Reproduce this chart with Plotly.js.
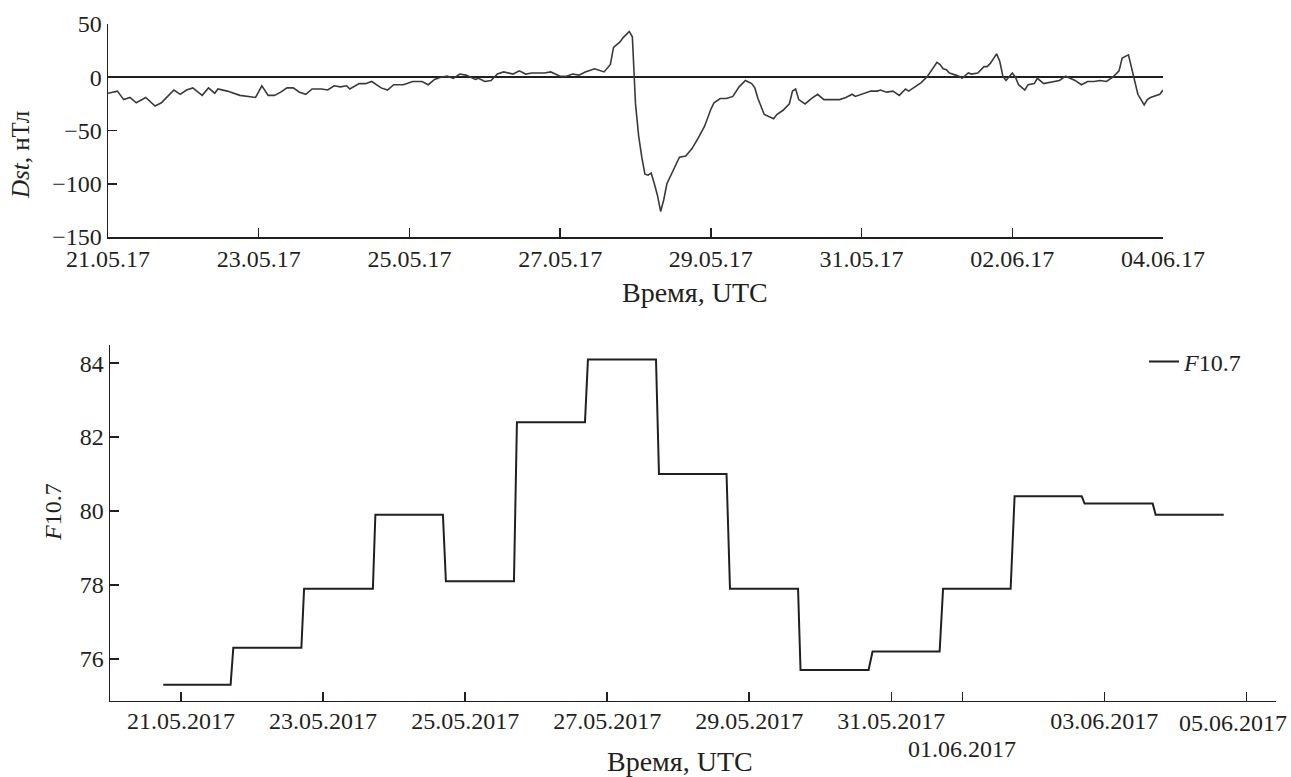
<!DOCTYPE html>
<html>
<head>
<meta charset="utf-8">
<script src="https://cdn.plot.ly/plotly-3.0.1.min.js"></script>
<style>
html,body{margin:0;padding:0;background:#fff;}
#chart{width:1291px;height:777px;}
</style>
</head>
<body>
<div id="chart"></div>
<script>
// ---- Dst index, hours since 2017-05-21 00:00 UTC ----
const dstStart = '2017-05-21T00:00:00Z';
const dstHours = [0,3,5,7,9,12,15,17,19,21,23,25,27,30,32,34,35,38,42,45,47,49,51,53,55,57,59,61,63,65,
  68,70,72,74,76,77,80,82,84,87,89,91,94,95,97,100,102,104,106,108,110,112,114,117,118,120,122,124,126,129,
  131,133,135,137,139,141,144,146,148,150,152,155,158,160,161,163,164,166,167,168,169,170,171,172,173,174,175,176,177,178,
  179,180,181,182,184,186,188,190,192,193,195,197,199,201,203,205,206,207,209,211,212,213,215,217,218,219,220,222,224,226,
  228,231,233,235,237,238,241,243,245,246,248,250,252,254,255,257,259,261,263,264,265,266,267,268,270,271,272,274,275,277,
  279,280,281,283,284,285,286,288,289,290,292,293,295,296,298,300,303,305,307,308,310,312,314,316,318,320,322,323,325,326,
  327,328,330,331,332,334,335,336];
const dstValues = [-15,-13,-21,-19,-24,-19,-27,-24,-18,-12,-16,-12,-10,-17,-10,-15,-11,-13,-17,-18,-19,-8,-17,-17,-14,-10,-10,-14,-16,-11,
  -11,-12,-8,-9,-8,-11,-6,-6,-4,-10,-12,-7,-7,-6,-4,-4,-7,-2,0,1,-1,3,2,-2,-1,-4,-3,3,5,3,
  6,3,4,4,4,5,1,1,3,2,5,8,5,12,28,33,37,43,38,-25,-55,-75,-91,-92,-90,-100,-111,-126,-115,-100,
  -94,-88,-82,-75,-74,-67,-57,-46,-30,-24,-20,-20,-18,-9,-3,-6,-10,-20,-35,-38,-39,-35,-31,-25,-13,-11,-21,-25,-20,-16,
  -21,-21,-21,-19,-16,-18,-15,-13,-13,-12,-14,-13,-17,-11,-13,-9,-5,1,9,14,12,8,7,4,2,1,-1,4,3,4,
  10,10,13,22,15,1,-3,4,0,-7,-12,-7,-6,-1,-6,-5,-3,1,-2,-3,-7,-4,-4,-3,-4,0,6,18,21,8,
  -5,-16,-26,-21,-19,-17,-16,-12];

// ---- F10.7 solar flux (daily steps) ----
const f107Times = ['2017-05-20 18:00','2017-05-21 16:45','2017-05-21 17:40','2017-05-22 16:40','2017-05-22 17:35',
  '2017-05-23 16:50','2017-05-23 17:40','2017-05-24 16:30','2017-05-24 17:30','2017-05-25 16:30','2017-05-25 17:30',
  '2017-05-26 16:30','2017-05-26 17:30','2017-05-27 16:30','2017-05-27 17:30','2017-05-28 16:20','2017-05-28 17:30',
  '2017-05-29 16:30','2017-05-29 17:20','2017-05-30 16:20','2017-05-30 17:40','2017-05-31 16:20','2017-05-31 17:30',
  '2017-06-01 16:20','2017-06-01 17:40','2017-06-02 16:20','2017-06-02 17:20','2017-06-03 16:20','2017-06-03 17:20',
  '2017-06-04 16:20'];
const f107Values = [75.3,75.3,76.3,76.3,77.9,77.9,79.9,79.9,78.1,78.1,82.4,82.4,84.1,84.1,81.0,81.0,77.9,77.9,75.7,75.7,
  76.2,76.2,77.9,77.9,80.4,80.4,80.2,80.2,79.9,79.9];

// ---- axis ticks ----
const dstTickVals = ['2017-05-21','2017-05-23','2017-05-25','2017-05-27','2017-05-29','2017-05-31','2017-06-02','2017-06-04'];
const dstTickText = ['21.05.17','23.05.17','25.05.17','27.05.17','29.05.17','31.05.17','02.06.17','04.06.17'];
const dstYTicks = [-150,-100,-50,0,50];
const f107TickVals = ['2017-05-21','2017-05-23','2017-05-25','2017-05-27','2017-05-29','2017-05-31','2017-06-01','2017-06-03','2017-06-05'];
const f107TickText = ['21.05.2017','23.05.2017','25.05.2017','27.05.2017','29.05.2017','31.05.2017','01.06.2017','03.06.2017','05.06.2017'];
const f107LowLabel = '01.06.2017';   // drawn on a second row under the axis
const f107EdgeLabel = '05.06.2017';  // last label, kept inside the page edge
const f107YTicks = [76,78,80,82,84];

const t0 = Date.parse(dstStart);
function hourToDate(h){
  const d = new Date(t0 + h*3600000);
  return d.toISOString().replace('T',' ').slice(0,19);
}
const dstTimes = dstHours.map(hourToDate);
const f107TickShown = f107TickText.map(t => (t === f107LowLabel || t === f107EdgeLabel) ? '' : t);
const lowIdx = f107TickText.indexOf(f107LowLabel);

const ink = '#231f20';
const FONT = 'Liberation Serif, Times New Roman, serif';
const W = 1291, H = 777;
const px = v => v / W;
const py = v => 1 - v / H;

const axisCommon = {
  showgrid:false, showline:true, linecolor:ink, linewidth:1.5,
  ticks:'inside', ticklen:9, tickwidth:1.5, tickcolor:ink,
  tickfont:{family:FONT, size:24, color:ink},
  zeroline:false, fixedrange:true, tickangle:0
};

const traces = [
  {x:dstTimes, y:dstValues, type:'scatter', mode:'lines', xaxis:'x', yaxis:'y',
   line:{color:'#3a3a3a', width:1.6}, showlegend:false, name:'Dst'},
  {x:f107Times, y:f107Values, type:'scatter', mode:'lines', xaxis:'x2', yaxis:'y2',
   line:{color:ink, width:2}, name:'<i>F</i>10.7', showlegend:true}
];

const layout = {
  width:W, height:H,
  margin:{l:0,r:0,t:0,b:0},
  paper_bgcolor:'#fff', plot_bgcolor:'#fff',
  font:{family:FONT, size:24, color:ink},
  showlegend:true,
  legend:{x:px(1144), y:py(362), xanchor:'left', yanchor:'middle', bgcolor:'rgba(0,0,0,0)',
          font:{family:FONT, size:24, color:ink}, borderwidth:0},
  xaxis:Object.assign({}, axisCommon, {
    domain:[px(108), px(1163)], anchor:'y', type:'date',
    range:['2017-05-21','2017-06-04'],
    tickmode:'array', tickvals:dstTickVals, ticktext:dstTickText, ticklabelstandoff:0
  }),
  yaxis:Object.assign({}, axisCommon, {
    domain:[py(237), py(24)], anchor:'x',
    range:[-150,50], tickmode:'array', tickvals:dstYTicks,
    zeroline:true, zerolinecolor:ink, zerolinewidth:1.6, ticklabelstandoff:0
  }),
  xaxis2:Object.assign({}, axisCommon, {
    domain:[px(110), px(1276)], anchor:'y2', type:'date',
    range:['2017-05-20 00:00','2017-06-05 10:00'],
    tickmode:'array', tickvals:f107TickVals, ticktext:f107TickShown, ticklabelstandoff:-2
  }),
  yaxis2:Object.assign({}, axisCommon, {
    domain:[py(700.7), py(345)], anchor:'x2',
    range:[74.87,84.49], tickmode:'array', tickvals:f107YTicks, ticklabelstandoff:0
  }),
  annotations:[
    {text:'<i>Dst</i>, нТл', xref:'paper', yref:'paper', x:px(20), y:py(155), textangle:-90,
     showarrow:false, xanchor:'center', yanchor:'middle', font:{family:FONT, size:25, color:ink}},
    {text:'Время, UTC', xref:'paper', yref:'paper', x:px(695), y:py(292),
     showarrow:false, xanchor:'center', yanchor:'middle', font:{family:FONT, size:28, color:ink}},
    {text:'<i>F</i>10.7', xref:'paper', yref:'paper', x:px(53), y:py(512), textangle:-90,
     showarrow:false, xanchor:'center', yanchor:'middle', font:{family:FONT, size:24, color:ink}},
    {text:'Время, UTC', xref:'paper', yref:'paper', x:px(680), y:py(761),
     showarrow:false, xanchor:'center', yanchor:'middle', font:{family:FONT, size:28, color:ink}},
    {text:f107LowLabel, xref:'x2', yref:'paper', x:f107TickVals[lowIdx], y:py(749),
     showarrow:false, xanchor:'center', yanchor:'middle', font:{family:FONT, size:24, color:ink}},
    {text:f107EdgeLabel, xref:'paper', yref:'paper', x:px(1289), y:py(723),
     showarrow:false, xanchor:'right', yanchor:'middle', font:{family:FONT, size:24, color:ink}}
  ]
};

Plotly.newPlot('chart', traces, layout, {displayModeBar:false, staticPlot:true});
</script>
</body>
</html>
